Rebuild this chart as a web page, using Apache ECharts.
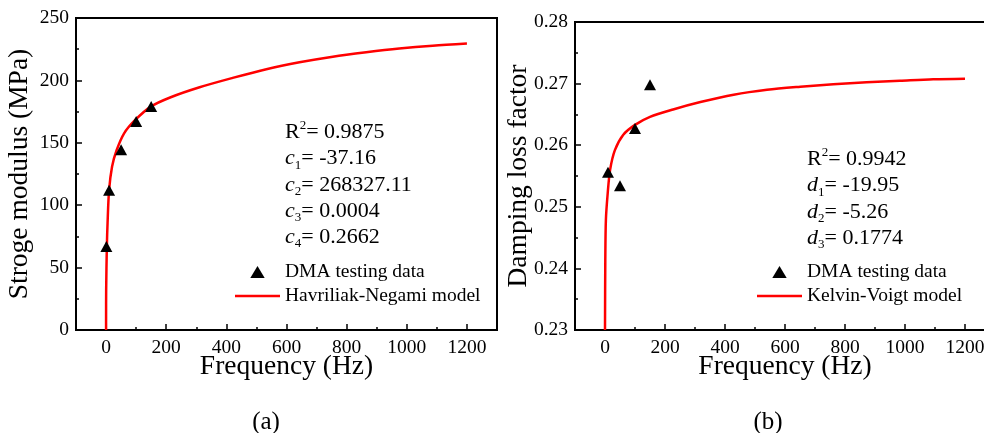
<!DOCTYPE html>
<html><head><meta charset="utf-8">
<script src="https://cdn.jsdelivr.net/npm/echarts@6/dist/echarts.min.js"></script>
<style>html,body{margin:0;padding:0;background:#fff}#c{width:984px;height:433px}</style>
</head><body><div id="c"></div>
<script>
// ---- data ----
const testFreqA = [1, 10, 50, 100, 150];
const testModulus = [67, 112, 144.5, 167, 179];
const modelFreqA = [0, 0.02, 0.3, 2.6, 5, 10, 20, 35, 60, 97, 149, 215, 311, 421, 533, 643, 754, 865, 975, 1086, 1200];
const modelModulus = [0, 10, 32, 67, 86, 112, 131, 144, 157.6, 168.3, 179, 186.5, 194.5, 202, 209, 214.5, 219, 222.5, 225.5, 227.8, 229.5];

const testFreqB = [10, 50, 100, 150];
const testDamping = [0.2556, 0.2534, 0.2627, 0.2698];
const modelFreqB = [0, 1, 3, 9, 17, 33, 61, 100, 150, 227, 318, 429, 540, 651, 761, 872, 983, 1094, 1200];
const modelDamping = [0.23, 0.2414, 0.2479, 0.2522, 0.256, 0.2592, 0.2617, 0.2633, 0.2646, 0.2658, 0.267, 0.2682, 0.269, 0.2695, 0.2699, 0.2702, 0.27045, 0.2707, 0.2708];

const freqTickLabels = [0, 200, 400, 600, 800, 1000, 1200];
const freqMinorTicks = [100, 300, 500, 700, 900, 1100];

const fitA = ['R{sup|2}= 0.9875', '{it|c}{sub|1}= -37.16', '{it|c}{sub|2}= 268327.11', '{it|c}{sub|3}= 0.0004', '{it|c}{sub|4}= 0.2662'];
const fitB = ['R{sup|2}= 0.9942', '{it|d}{sub|1}= -19.95', '{it|d}{sub|2}= -5.26', '{it|d}{sub|3}= 0.1774'];

// ---- chart ----
const FONT = "'Liberation Serif','Times New Roman',serif";
const zip = (a, b) => a.map((v, i) => [v, b[i]]);
const chart = echarts.init(document.getElementById('c'), null, {renderer: 'canvas'});

function mainX(grid) {
  return {
    type: 'value', gridIndex: grid, min: -100, max: 1300, interval: 100,
    name: 'Frequency (Hz)', nameLocation: 'middle', nameGap: 23, nameMoveOverlap: false,
    nameTextStyle: {fontFamily: FONT, fontSize: 27.5, color: '#000'},
    axisLine: {show: true, onZero: false, lineStyle: {color: '#000', width: 2}},
    axisTick: {show: true, inside: true, length: 6, customValues: freqTickLabels, lineStyle: {color: '#000', width: 1.5}},
    axisLabel: {show: true, customValues: freqTickLabels, margin: 8, fontFamily: FONT, fontSize: 19.5, color: '#000', formatter: v => String(v)},
    splitLine: {show: false}
  };
}
function minorX(grid) {
  return {
    type: 'value', gridIndex: grid, min: -100, max: 1300, interval: 100, position: 'bottom', offset: 0,
    axisLine: {show: false, onZero: false},
    axisTick: {show: true, inside: true, length: 3, customValues: freqMinorTicks, lineStyle: {color: '#000', width: 1.5}},
    axisLabel: {show: false},
    splitLine: {show: false}
  };
}
function yAx(grid, name, min, max, interval, fmt) {
  return {
    type: 'value', gridIndex: grid, min: min, max: max, interval: interval,
    name: name, nameLocation: 'middle', nameGap: 42, nameMoveOverlap: false,
    nameTextStyle: {fontFamily: FONT, fontSize: 27.5, color: '#000'},
    axisLine: {show: true, onZero: false, lineStyle: {color: '#000', width: 2}},
    axisTick: {show: true, inside: true, length: 6, lineStyle: {color: '#000', width: 1.5}},
    minorTick: {show: true, splitNumber: 2, length: 3, lineStyle: {color: '#000', width: 1.5}},
    axisLabel: {show: true, margin: 7, fontFamily: FONT, fontSize: 19.5, color: '#000', formatter: fmt},
    splitLine: {show: false}, minorSplitLine: {show: false}
  };
}
const rich = {
  sup: {fontFamily: FONT, fontSize: 13, lineHeight: 13, verticalAlign: 'top', color: '#000'},
  sub: {fontFamily: FONT, fontSize: 13, lineHeight: 13, verticalAlign: 'bottom', color: '#000'},
  it: {fontFamily: FONT, fontSize: 22, lineHeight: 26, fontStyle: 'italic', color: '#000'}
};
const triIcon = 'path://M0,10L6,0L12,10Z';
const lineIcon = 'path://M0,0H45V2.5H0Z';

const option = {
  backgroundColor: '#fff',
  animation: false,
  grid: [
    {left: 76, top: 18, width: 421, height: 312, show: true, borderColor: '#000', borderWidth: 2, backgroundColor: 'transparent', outerBoundsMode: 'none', containLabel: false},
    {left: 575, top: 22, width: 420, height: 308, show: true, borderColor: '#000', borderWidth: 2, backgroundColor: 'transparent', outerBoundsMode: 'none', containLabel: false}
  ],
  xAxis: [mainX(0), minorX(0), mainX(1), minorX(1)],
  yAxis: [
    yAx(0, 'Stroge modulus (MPa)', 0, 250, 50, v => String(v)),
    yAx(1, 'Damping loss factor', 0.23, 0.28, 0.01, v => v.toFixed(2))
  ],
  legend: [
    {left: 235, top: 262, orient: 'vertical', padding: 0, itemGap: 4, itemWidth: 45, itemHeight: 12, symbolKeepAspect: true,
     textStyle: {fontFamily: FONT, fontSize: 19.5, lineHeight: 20, color: '#000'}, selectedMode: false,
     data: [{name: 'DMA testing data', icon: triIcon, itemStyle: {color: '#000', opacity: 1}},
            {name: 'Havriliak-Negami model', icon: lineIcon, itemStyle: {color: '#ff0000', opacity: 1}}]},
    {left: 757, top: 262, orient: 'vertical', padding: 0, itemGap: 4, itemWidth: 45, itemHeight: 12, symbolKeepAspect: true,
     textStyle: {fontFamily: FONT, fontSize: 19.5, lineHeight: 20, color: '#000'}, selectedMode: false,
     data: [{name: 'DMA testing data', icon: triIcon, itemStyle: {color: '#000', opacity: 1}},
            {name: 'Kelvin-Voigt model', icon: lineIcon, itemStyle: {color: '#ff0000', opacity: 1}}]}
  ],
  graphic: [
    {type: 'text', left: 285, top: 119, style: {text: fitA.join('\n'), fontFamily: FONT, fontSize: 22, lineHeight: 26.3, fill: '#000', rich: rich}},
    {type: 'text', left: 807, top: 146, style: {text: fitB.join('\n'), fontFamily: FONT, fontSize: 22, lineHeight: 26.3, fill: '#000', rich: rich}},
    {type: 'text', x: 266, y: 422, style: {text: '(a)', fontFamily: FONT, fontSize: 25, fill: '#000', align: 'center', verticalAlign: 'middle'}},
    {type: 'text', x: 768, y: 422, style: {text: '(b)', fontFamily: FONT, fontSize: 25, fill: '#000', align: 'center', verticalAlign: 'middle'}}
  ],
  series: [
    {name: 'Havriliak-Negami model', type: 'line', xAxisIndex: 0, yAxisIndex: 0, data: zip(modelFreqA, modelModulus),
     showSymbol: false, symbol: 'none', smooth: 0.3, lineStyle: {color: '#ff0000', width: 2.5}, itemStyle: {color: '#ff0000'}, z: 2},
    {name: 'DMA testing data', type: 'scatter', xAxisIndex: 0, yAxisIndex: 0, data: zip(testFreqA, testModulus),
     symbol: 'triangle', symbolSize: [12, 11], itemStyle: {color: '#000', opacity: 1}, z: 3},
    {name: 'Kelvin-Voigt model', type: 'line', xAxisIndex: 2, yAxisIndex: 1, data: zip(modelFreqB, modelDamping),
     showSymbol: false, symbol: 'none', smooth: 0.3, lineStyle: {color: '#ff0000', width: 2.5}, itemStyle: {color: '#ff0000'}, z: 2},
    {name: 'DMA testing data', type: 'scatter', xAxisIndex: 2, yAxisIndex: 1, data: zip(testFreqB, testDamping),
     symbol: 'triangle', symbolSize: [12, 11], itemStyle: {color: '#000', opacity: 1}, z: 3}
  ]
};
chart.setOption(option);
</script></body></html>
